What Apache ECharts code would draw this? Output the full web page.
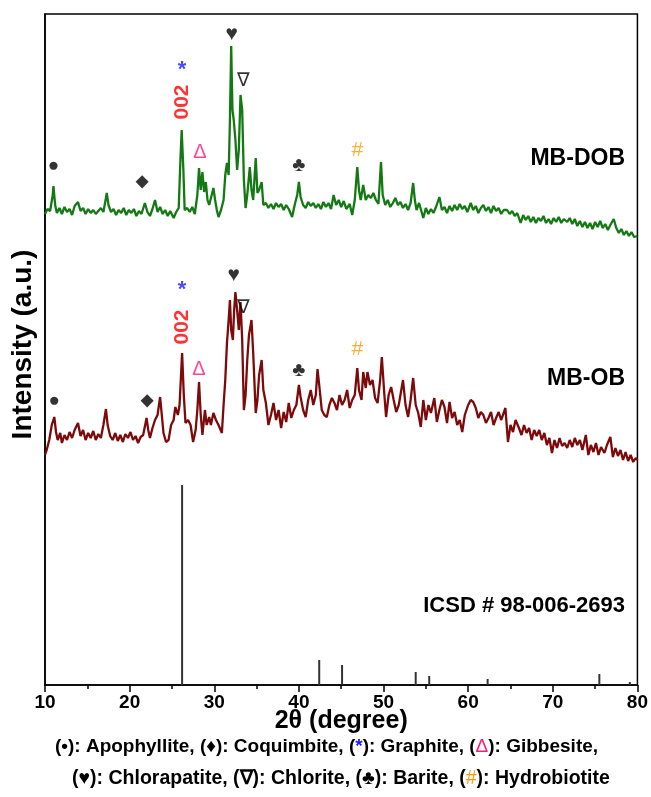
<!DOCTYPE html>
<html>
<head>
<meta charset="utf-8">
<script src="https://cdn.jsdelivr.net/npm/echarts@6/dist/echarts.min.js"></script>
<style>
html,body{margin:0;padding:0;background:#fff;}
#chart{width:651px;height:797px;}
</style>
</head>
<body>
<div id="chart"></div>
<script>
// ---- DATA (2θ in degrees, intensity in arbitrary units, stacked offsets included) ----
const xTicks = [10, 20, 30, 40, 50, 60, 70, 80];

// MB-DOB pattern [2θ, intensity]
const dobPattern = [
[10.0,471],[10.3,476],[10.6,474],[10.9,489],[11.0,499],[11.2,480],[11.4,472],[11.7,477],[12.0,471],[12.3,478],
[12.6,473],[12.9,476],[13.2,470],[13.5,479],[13.9,483],[14.2,474],[14.5,477],[14.8,471],[15.1,476],[15.4,472],
[15.7,475],[16.0,471],[16.3,474],[16.6,477],[16.9,473],[17.2,487],[17.3,492],[17.5,480],[17.8,473],[18.1,476],
[18.4,470],[18.7,475],[19.0,472],[19.3,477],[19.6,470],[19.9,475],[20.2,472],[20.5,476],[20.8,469],[21.1,474],
[21.4,471],[21.8,482],[22.1,473],[22.4,469],[22.7,476],[23.0,485],[23.3,473],[23.6,478],[23.9,471],[24.2,475],
[24.5,469],[24.8,474],[25.2,467],[25.5,473],[25.8,477],[26.0,525],[26.15,555],[26.35,515],[26.5,475],[26.8,477],
[27.1,473],[27.4,478],[27.7,471],[28.0,490],[28.2,517],[28.4,495],[28.6,513],[28.8,493],[29.0,503],[29.2,485],
[29.4,480],[29.7,490],[29.9,497],[30.1,485],[30.3,475],[30.5,468],[30.8,475],[31.1,485],[31.3,510],[31.5,522],
[31.7,510],[31.85,565],[32.0,639],[32.15,575],[32.3,565],[32.5,545],[32.7,515],[32.9,535],[33.1,590],[33.3,575],
[33.5,505],[33.7,477],[33.9,490],[34.2,518],[34.4,495],[34.6,485],[34.9,527],[35.1,492],[35.3,495],[35.6,503],
[35.8,480],[36.1,482],[36.4,477],[36.7,481],[37.0,476],[37.3,482],[37.6,478],[37.9,481],[38.2,475],[38.5,480],
[38.8,476],[39.2,468],[39.5,480],[39.8,490],[40.0,503],[40.2,488],[40.5,480],[40.8,477],[41.1,483],[41.4,479],
[41.7,482],[42.0,477],[42.3,481],[42.6,476],[42.9,483],[43.2,478],[43.5,482],[43.8,476],[44.1,490],[44.4,480],
[44.7,485],[45.0,478],[45.3,484],[45.6,476],[46.0,481],[46.3,470],[46.6,485],[46.9,518],[47.1,495],[47.3,485],
[47.6,500],[47.9,485],[48.2,490],[48.5,487],[48.8,492],[49.1,485],[49.4,481],[49.7,523],[49.9,490],[50.2,480],
[50.5,485],[50.8,478],[51.1,482],[51.4,487],[51.7,480],[52.0,483],[52.3,477],[52.6,481],[52.9,475],[53.2,482],
[53.5,502],[53.7,485],[53.9,475],[54.2,482],[54.5,473],[54.7,467],[55.0,477],[55.3,471],[55.6,476],[55.9,472],
[56.2,478],[56.6,488],[56.9,475],[57.2,478],[57.5,472],[57.8,479],[58.1,474],[58.4,480],[58.7,475],[59.0,481],
[59.3,476],[59.6,479],[59.9,473],[60.3,482],[60.6,475],[60.9,479],[61.2,472],[61.5,477],[61.8,480],[62.1,474],
[62.4,478],[62.7,472],[63.0,479],[63.3,474],[63.6,477],[63.9,471],[64.2,475],[64.6,475],[64.9,471],[65.2,474],
[65.5,469],[65.8,472],[66.2,462],[66.5,470],[66.8,465],[67.1,469],[67.4,463],[67.7,468],[68.0,462],[68.3,467],
[68.6,464],[68.9,469],[69.2,462],[69.5,466],[69.8,461],[70.1,467],[70.4,463],[70.7,468],[71.0,462],[71.3,466],
[71.7,463],[72.0,467],[72.3,461],[72.6,466],[72.9,459],[73.2,464],[73.5,458],[73.8,463],[74.1,457],[74.4,462],
[74.7,456],[75.0,463],[75.3,458],[75.6,464],[75.9,457],[76.2,461],[76.5,455],[76.8,460],[77.2,466],[77.5,457],
[77.8,452],[78.1,456],[78.4,450],[78.7,454],[79.0,449],[79.3,453],[79.6,448],[80.0,449]
];

// MB-OB pattern [2θ, intensity]
const obPattern = [
[10.0,230],[10.2,235],[10.5,245],[10.8,260],[11.1,268],[11.3,253],[11.5,245],[11.8,252],[12.0,242],[12.3,250],
[12.6,245],[12.9,253],[13.2,247],[13.5,255],[13.9,262],[14.2,249],[14.5,255],[14.8,245],[15.1,252],[15.4,247],
[15.7,254],[16.0,245],[16.3,251],[16.6,247],[16.9,260],[17.2,276],[17.4,260],[17.7,249],[18.0,245],[18.3,252],
[18.6,244],[18.9,250],[19.2,243],[19.5,251],[19.8,247],[20.1,253],[20.4,245],[20.7,249],[21.0,242],[21.3,248],
[21.6,250],[22.0,267],[22.2,255],[22.4,247],[22.7,257],[23.0,265],[23.3,270],[23.6,288],[23.8,270],[24.0,252],
[24.3,243],[24.6,245],[24.9,260],[25.2,265],[25.4,278],[25.7,270],[25.9,280],[26.2,332],[26.4,290],[26.6,262],
[26.9,265],[27.2,260],[27.5,243],[27.8,255],[28.0,275],[28.2,303],[28.4,270],[28.6,250],[28.9,275],[29.1,260],
[29.4,268],[29.6,260],[29.9,272],[30.2,265],[30.5,260],[30.9,252],[31.1,280],[31.3,305],[31.5,342],[31.7,365],
[31.85,385],[32.0,355],[32.2,345],[32.35,375],[32.5,393],[32.7,375],[32.9,355],[33.1,383],[33.3,345],[33.5,275],
[33.7,290],[33.9,325],[34.1,350],[34.4,365],[34.6,332],[34.9,272],[35.1,285],[35.3,310],[35.6,325],[35.8,295],
[36.1,282],[36.4,260],[36.7,270],[37.0,282],[37.3,265],[37.6,275],[37.9,257],[38.2,273],[38.5,263],[38.8,282],
[39.1,267],[39.4,275],[39.7,280],[40.0,300],[40.2,288],[40.5,275],[40.8,268],[41.1,285],[41.4,295],[41.7,280],
[42.0,290],[42.2,316],[42.4,300],[42.7,275],[43.0,270],[43.3,268],[43.6,280],[43.9,287],[44.2,282],[44.5,275],
[44.8,290],[45.1,280],[45.4,285],[45.7,295],[46.0,277],[46.3,285],[46.6,290],[46.9,317],[47.1,295],[47.4,285],
[47.6,313],[47.9,297],[48.1,313],[48.4,300],[48.7,305],[49.0,287],[49.3,282],[49.6,305],[49.8,328],[50.1,290],
[50.3,268],[50.6,290],[50.9,298],[51.2,285],[51.5,273],[51.8,280],[52.0,290],[52.3,305],[52.6,280],[52.9,268],
[53.2,285],[53.5,307],[53.8,280],[54.1,272],[54.4,258],[54.7,285],[55.0,265],[55.3,280],[55.6,272],[56.0,287],
[56.3,263],[56.6,275],[56.9,285],[57.2,278],[57.5,262],[57.8,283],[58.1,267],[58.4,273],[58.7,260],[59.0,265],
[59.3,253],[59.6,270],[60.0,280],[60.3,285],[60.6,283],[60.9,277],[61.2,267],[61.5,273],[61.8,270],[62.1,262],
[62.4,267],[62.7,273],[63.0,260],[63.3,267],[63.6,273],[63.9,265],[64.4,277],[64.7,243],[65.0,260],[65.3,253],
[65.6,265],[66.0,257],[66.3,250],[66.6,260],[66.9,252],[67.2,257],[67.5,245],[67.8,255],[68.1,249],[68.4,255],
[68.7,245],[69.0,252],[69.3,240],[69.6,247],[69.9,232],[70.2,245],[70.5,237],[70.8,247],[71.1,239],[71.4,242],
[71.7,237],[72.0,245],[72.3,238],[72.6,247],[72.9,240],[73.2,245],[73.5,235],[73.9,250],[74.2,230],[74.5,240],
[74.8,233],[75.1,242],[75.4,230],[75.7,238],[76.1,232],[76.4,240],[76.8,248],[77.1,228],[77.4,237],[77.7,229],
[78.0,235],[78.3,225],[78.6,233],[78.9,224],[79.2,230],[79.5,223],[79.8,227],[80.0,225]
];

// ICSD # 98-006-2693 reference sticks
const icsdAngle = [26.2, 42.4, 45.1, 53.8, 55.4, 62.3, 75.5, 79.1];
const icsdIntensity = [200, 25, 20, 13, 9, 6, 11, 3];

// Phase markers [2θ, intensity position, phase]
const dobMarks = [
[11.0,519,'apophyllite'],[21.5,503,'coquimbite'],[26.2,615,'graphite'],[26.2,583,'hkl'],
[28.3,533,'gibbsite'],[32.05,651,'chlorapatite'],[33.4,604,'chlorite'],[40.0,520,'barite'],[46.9,535,'hydrobiotite']
];
const obMarks = [
[11.1,284,'apophyllite'],[22.0,284,'coquimbite'],[26.2,395,'graphite'],[26.2,358,'hkl'],
[28.2,316,'gibbsite'],[32.3,410,'chlorapatite'],[33.4,377,'chlorite'],[40.0,315,'barite'],[46.9,336,'hydrobiotite']
];

const sampleNames = ['MB-DOB', 'MB-OB', 'ICSD # 98-006-2693'];
const xName = '2θ (degree)';
const yName = 'Intensity (a.u.)';

// ---- STYLES ----
const FONT = '"Liberation Sans", Arial, sans-serif';
const markStyle = {
  apophyllite:  {t:'●', color:'#000', size:19},
  coquimbite:   {t:'◆', color:'#000', size:16},
  graphite:     {t:'*', color:'#1a1aff', size:22},
  hkl:          {t:'002', color:'#ff0000', size:21, rotate:90},
  gibbsite:     {t:'Δ', color:'#ff1a75', size:20, weight:'normal'},
  chlorapatite: {t:'♥', color:'#000', size:21},
  chlorite:     {t:'∇', color:'#000', size:19, weight:'normal'},
  barite:       {t:'♣', color:'#000', size:20},
  hydrobiotite: {t:'#', color:'#ff9900', size:21, weight:'normal'}
};

function markSeries(marks) {
  return {
    type: 'scatter',
    symbolSize: 0,
    silent: true,
    z: 5,
    data: marks.map(m => ({
      value: [m[0], m[1]],
      label: {
        show: true,
        position: 'inside',
        formatter: markStyle[m[2]].t,
        color: markStyle[m[2]].color,
        fontSize: markStyle[m[2]].size,
        fontWeight: markStyle[m[2]].weight || 'bold',
        fontFamily: FONT,
        rotate: markStyle[m[2]].rotate || 0
      }
    }))
  };
}

const chart = echarts.init(document.getElementById('chart'), null, {renderer: 'canvas'});
const option = {
  animation: false,
  backgroundColor: '#fff',
  textStyle: {fontFamily: FONT},
  grid: {left: 45, right: 13, top: 14, bottom: 112, show: true, borderColor: '#000', borderWidth: 1.5, backgroundColor: 'transparent'},
  xAxis: {
    type: 'value', min: xTicks[0], max: xTicks[xTicks.length - 1], interval: 10,
    name: xName, nameLocation: 'middle', nameGap: 24, nameMoveOverlap: false,
    nameTextStyle: {fontSize: 25, fontWeight: 'bold', color: '#000', fontFamily: FONT},
    axisLine: {lineStyle: {color: '#000', width: 1.5}},
    axisTick: {show: true, inside: false, length: 7, lineStyle: {color: '#000', width: 1.5}},
    minorTick: {show: true, splitNumber: 2, length: 4, lineStyle: {color: '#000', width: 1.5}},
    axisLabel: {fontSize: 19, fontWeight: 'bold', color: '#000', margin: 8, fontFamily: FONT},
    splitLine: {show: false}
  },
  yAxis: {
    type: 'value', min: 0, max: 671,
    name: yName, nameLocation: 'middle', nameGap: 8, nameRotate: 90, nameMoveOverlap: false,
    nameTextStyle: {fontSize: 28, fontWeight: 'bold', color: '#000', fontFamily: FONT, padding: [0, 0, 0, 10]},
    axisLine: {show: true, lineStyle: {color: '#000', width: 1.5}},
    axisTick: {show: false}, axisLabel: {show: false}, splitLine: {show: false}
  },
  series: [
    {type: 'line', data: dobPattern, showSymbol: false, symbol: 'none', lineStyle: {color: '#137a13', width: 2.3}, z: 3},
    {type: 'line', data: obPattern, showSymbol: false, symbol: 'none', lineStyle: {color: '#7d0a0a', width: 2.3}, z: 3},
    {type: 'bar', data: icsdAngle.map((a, i) => [a, icsdIntensity[i]]), barWidth: 2, itemStyle: {color: '#333'}, z: 2},
    markSeries(dobMarks),
    markSeries(obMarks)
  ],
  graphic: [
    {type: 'text', right: 26, top: 147, style: {text: sampleNames[0], font: 'bold 23px ' + FONT, fill: '#000'}},
    {type: 'text', right: 26, top: 367, style: {text: sampleNames[1], font: 'bold 23px ' + FONT, fill: '#000'}},
    {type: 'text', right: 26, top: 595, style: {text: sampleNames[2], font: 'bold 22px ' + FONT, fill: '#000'}},
    {type: 'text', left: 55, top: 737, style: {
      text: '(•): Apophyllite, (♦): Coquimbite, ({b|*}): Graphite, ({p|Δ}): Gibbesite,',
      font: 'bold 19px ' + FONT, fill: '#000',
      rich: {b: {fill: '#1a1aff', font: 'bold 19px ' + FONT}, p: {fill: '#ff1a75', font: '19px ' + FONT}}
    }},
    {type: 'text', left: 72, top: 769, style: {
      text: '(♥): Chlorapatite, (∇): Chlorite, (♣): Barite, ({o|#}): Hydrobiotite',
      font: 'bold 19.5px ' + FONT, fill: '#000',
      rich: {o: {fill: '#ff9900', font: '19.5px ' + FONT}}
    }}
  ]
};
chart.setOption(option);
</script>
</body>
</html>
